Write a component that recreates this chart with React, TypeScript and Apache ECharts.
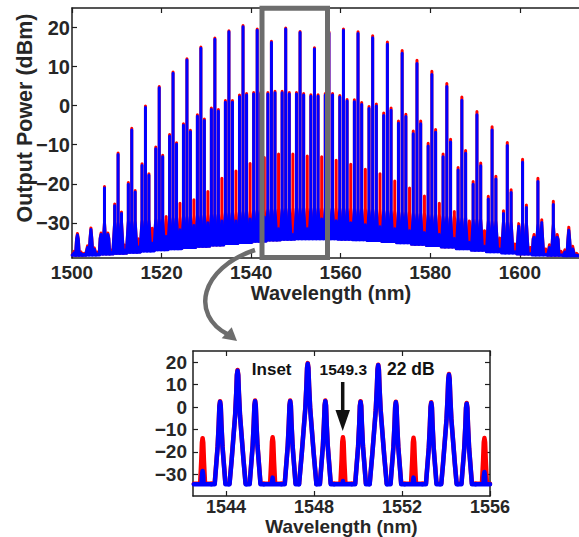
import { useEffect, useRef } from 'react';
import * as echarts from 'echarts';

const FONT = '"Liberation Sans", Arial, Helvetica, sans-serif';
const C_NM_THZ = 299792.458; // nm * THz

// ---------------- Main spectrum (100-GHz grid, groups of 4 lines) ----------------
// high line of each group (THz); left side line = +0.1 THz, right side = -0.1 THz
const highTHz = [199.7, 199.3, 198.9, 198.5, 198.1, 197.7, 197.3, 196.9, 196.5, 196.1, 195.7, 195.3, 194.9, 194.5, 194.1, 193.7, 193.3, 192.9, 192.5, 192.1, 191.7, 191.3, 190.9, 190.5, 190.1, 189.7, 189.3, 188.9, 188.5, 188.1, 187.7, 187.3, 186.9, 186.5, 186.1];
const highBlue = [-33.1, -31.7, -21.1, -12.5, -6.2, -0.5, 4.6, 8.3, 11.7, 14.7, 17.0, 18.9, 20.2, 19.3, 16.2, 19.6, 18.7, 14.5, 18.6, 19.3, 18.5, 17.4, 15.7, 13.4, 10.8, 8.0, 4.9, 1.4, -2.3, -6.2, -10.2, -14.5, -19.4, -25.3, -31.9];
const highRed = [-32.7, -31.3, -20.7, -12.1, -5.8, -0.1, 4.9, 8.6, 12.0, 15.0, 17.3, 19.2, 20.5, 19.6, 16.5, 19.9, 19.0, 14.8, 18.9, 19.6, 18.9, 17.9, 16.3, 14.1, 11.6, 8.8, 5.7, 2.2, -1.5, -5.4, -9.4, -13.7, -18.6, -24.5, -31.1];
const sideLeftBlue = [-37.7, -36.3, -33.0, -25.6, -20.1, -15.3, -11.0, -7.8, -5.0, -2.7, -1.0, 0.9, 2.3, 3.0, 3.0, 3.3, 3.0, 2.4, 2.7, 2.2, 1.0, -0.7, -2.5, -4.5, -7.2, -10.3, -13.1, -16.5, -20.1, -23.9, -27.6, -30.9, -33.7, -36.3, -37.5];
const sideLeftRed = [-37.3, -35.9, -32.6, -25.2, -19.7, -14.9, -10.6, -7.4, -4.6, -2.3, -0.6, 1.3, 2.7, 3.4, 3.4, 3.7, 3.4, 2.8, 3.1, 2.6, 1.5, -0.2, -1.9, -3.9, -6.5, -9.6, -12.4, -15.8, -19.4, -23.2, -26.9, -30.2, -33.0, -35.6, -36.9];
const sideRightBlue = [-37.8, -36.8, -33.0, -27.6, -22.1, -17.8, -13.1, -9.9, -6.7, -3.8, -1.4, 0.9, 2.7, 3.0, 3.3, 3.0, 2.7, 2.4, 2.7, 1.2, 0.3, -0.1, -1.2, -2.8, -4.6, -6.8, -9.3, -12.2, -15.4, -18.8, -22.2, -26.1, -29.9, -33.7, -36.7];
const sideRightRed = [-37.4, -36.4, -32.6, -27.2, -21.7, -17.4, -12.7, -9.5, -6.3, -3.4, -1.0, 1.3, 3.1, 3.4, 3.7, 3.4, 3.1, 2.8, 3.1, 1.6, 0.8, 0.4, -0.6, -2.2, -3.9, -6.1, -8.6, -11.5, -14.7, -18.1, -21.5, -25.4, -29.2, -33.0, -36.0];
const floorBlue = [-38.3, -38.2, -38.0, -37.8, -37.5, -37.2, -36.9, -36.6, -36.3, -36.0, -35.7, -35.3, -35.0, -34.7, -34.4, -34.2, -34.1, -34.1, -34.1, -34.2, -34.3, -34.5, -34.8, -35.1, -35.5, -35.8, -36.2, -36.6, -37.0, -37.4, -37.7, -38.0, -38.2, -38.3, -38.4];
const floorRed = [-38.2, -38.1, -37.9, -37.7, -37.4, -37.1, -36.8, -36.5, -36.2, -35.9, -35.6, -35.2, -34.9, -34.6, -34.3, -34.1, -34.0, -34.0, -34.0, -34.1, -34.2, -34.4, -34.7, -35.0, -35.4, -35.7, -36.1, -36.5, -36.9, -37.3, -37.6, -37.9, -38.1, -38.2, -38.3];
// suppressed lines (between groups)
const suppTHz = [199.5, 199.1, 198.7, 198.3, 197.9, 197.5, 197.1, 196.7, 196.3, 195.9, 195.5, 195.1, 194.7, 194.3, 193.9, 193.5, 193.1, 192.7, 192.3, 191.9, 191.5, 191.1, 190.7, 190.3, 189.9, 189.5, 189.1, 188.7, 188.3, 187.9, 187.5, 187.1, 186.7, 186.3, 185.9];
const suppRed = [-37.8, -37.5, -37.0, -35.7, -34.1, -31.4, -28.4, -25.0, -24.1, -22.0, -18.6, -16.7, -14.8, -13.3, -12.4, -12.4, -12.9, -13.1, -14.0, -15.0, -16.3, -17.4, -19.3, -21.1, -23.1, -25.0, -27.1, -29.5, -32.0, -33.9, -35.4, -36.3, -36.7, -37.3, -37.8];
const suppBlue = [-38.1, -38.0, -37.6, -37.0, -36.2, -35.2, -33.5, -31.8, -30.7, -30.0, -29.5, -29.5, -29.0, -28.5, -31.5, -33.0, -31.5, -29.0, -29.5, -30.0, -30.5, -31.0, -31.5, -32.0, -32.5, -33.0, -34.0, -35.0, -36.0, -36.7, -37.4, -37.9, -38.1, -38.2, -38.3];

// ---------------- Inset (1542.5 - 1556 nm) ----------------
const insetTHz = [194.3, 194.2, 194.1, 194.0, 193.9, 193.8, 193.7, 193.6, 193.5, 193.4, 193.3, 193.2, 193.1, 193.0, 192.9, 192.8, 192.7];
const insetBlue = [-28.5, 2.3, 16.2, 2.6, -31.5, 2.6, 19.3, 2.6, -33.0, 2.3, 18.6, 2.1, -31.5, 1.8, 14.4, 1.5, -29.0];
const insetRed = [-13.9, 2.6, 16.5, 2.9, -13.5, 2.9, 19.6, 2.9, -13.5, 2.6, 18.9, 2.4, -13.7, 2.1, 14.7, 1.8, -13.8];
const insetFloorBlue = -34.5;
const insetFloorRed = -34.2;

// ticks
const mainXTicks = [1500, 1520, 1540, 1560, 1580, 1600];
const mainYTicks = [-30, -20, -10, 0, 10, 20];
const insetXTicks = [1544, 1548, 1552, 1556];
const insetYTicks = [-30, -20, -10, 0, 10, 20];

const BLUE = '#0000ff';
const RED = '#ff0000';

const toNm = (thz: number) => C_NM_THZ / thz;

type Line = [number, number, number];

function buildMain(blue: boolean): Line[] {
  const hi = blue ? highBlue : highRed;
  const sl = blue ? sideLeftBlue : sideLeftRed;
  const sr = blue ? sideRightBlue : sideRightRed;
  const sp = blue ? suppBlue : suppRed;
  const fl = blue ? floorBlue : floorRed;
  const out: Line[] = [];
  highTHz.forEach((f, i) => {
    out.push([toNm(f + 0.1), sl[i], fl[i]]);
    out.push([toNm(f), hi[i], fl[i]]);
    out.push([toNm(f - 0.1), sr[i], fl[i]]);
  });
  suppTHz.forEach((f, i) => out.push([toNm(f), sp[i], fl[i]]));
  return out;
}

function buildInset(blue: boolean): Line[] {
  const v = blue ? insetBlue : insetRed;
  const fl = blue ? insetFloorBlue : insetFloorRed;
  return insetTHz.map((f, i) => [toNm(f), v[i], fl] as Line);
}

// glyph styles
const MAIN_FOOT_H = [8, 4, 0]; // dB above floor
const MAIN_FOOT_W = [0, 0.2, 0.42]; // nm half width
const INSET_DROP = [0, 2, 10, 20, 40, 60]; // dB below peak
const INSET_HW = [0, 0.03, 0.06, 0.11, 0.27, 0.45]; // nm half width
const INSET_HALF_SPACING = 0.4;

function clampFn(cs: any) {
  return (p: number[]) => [Math.min(Math.max(p[0], cs.x), cs.x + cs.width), p[1]];
}

function mainRender(color: string, lw: number) {
  return (params: any, api: any) => {
    const lam = api.value(0) as number;
    const peak = api.value(1) as number;
    const floor = api.value(2) as number;
    const clamp = clampFn(params.coordSys);
    const left: number[][] = [];
    const right: number[][] = [];
    for (let k = 0; k < MAIN_FOOT_H.length; k++) {
      const lvl = floor + MAIN_FOOT_H[k];
      if (lvl > peak) continue;
      left.unshift(clamp(api.coord([lam - MAIN_FOOT_W[k], lvl])));
      right.push(clamp(api.coord([lam + MAIN_FOOT_W[k], lvl])));
    }
    const pts = [...left, clamp(api.coord([lam, peak])), ...right];
    return {
      type: 'polygon',
      shape: { points: pts },
      style: { fill: color, stroke: color, lineWidth: lw, lineJoin: 'round' },
    };
  };
}

function insetRender(color: string, lw: number) {
  return (params: any, api: any) => {
    const lam = api.value(0) as number;
    const peak = api.value(1) as number;
    const floor = api.value(2) as number;
    const clamp = clampFn(params.coordSys);
    const total = peak - floor;
    const prof: [number, number][] = [];
    for (let k = 0; k < INSET_DROP.length; k++) {
      if (INSET_DROP[k] < total) {
        prof.push([INSET_HW[k], peak - INSET_DROP[k]]);
      } else {
        const d0 = INSET_DROP[k - 1];
        const w0 = INSET_HW[k - 1];
        const t = (total - d0) / (INSET_DROP[k] - d0);
        prof.push([w0 + t * (INSET_HW[k] - w0), floor]);
        break;
      }
    }
    prof.push([INSET_HALF_SPACING, floor]);
    const leftPts = prof.slice().reverse().map(([w, y]) => clamp(api.coord([lam - w, y])));
    const rightPts = prof.slice(1).map(([w, y]) => clamp(api.coord([lam + w, y])));
    return {
      type: 'polyline',
      shape: { points: [...leftPts, ...rightPts] },
      style: { fill: 'none', stroke: color, lineWidth: lw, lineJoin: 'round', lineCap: 'round' },
    };
  };
}

const AXIS_COLOR = '#1e1e1e';
const LABEL_COLOR = '#262626';
const fmtNum = (v: number) => (v < 0 ? '\u2212' + Math.abs(v) : String(v));

function xAxis(gridIndex: number, position: 'top' | 'bottom', min: number, max: number, ticks: number[], labels: boolean, fontSize: number, margin: number) {
  return {
    type: 'value', gridIndex, position, min, max,
    axisLine: { show: true, onZero: false, lineStyle: { color: AXIS_COLOR, width: 1.5 } },
    axisTick: { show: true, inside: true, length: 5, customValues: ticks, lineStyle: { color: AXIS_COLOR, width: 1.2 } },
    axisLabel: labels
      ? { show: true, customValues: ticks, margin, fontSize, fontWeight: 'bold', fontFamily: FONT, color: LABEL_COLOR, formatter: fmtNum, lineHeight: fontSize }
      : { show: false },
    splitLine: { show: false },
  };
}

function yAxis(gridIndex: number, position: 'left' | 'right', min: number, max: number, ticks: number[], labels: boolean, fontSize: number, margin: number) {
  return {
    type: 'value', gridIndex, position, min, max,
    axisLine: { show: true, onZero: false, lineStyle: { color: AXIS_COLOR, width: 1.5 } },
    axisTick: { show: true, inside: true, length: 5, customValues: ticks, lineStyle: { color: AXIS_COLOR, width: 1.2 } },
    axisLabel: labels
      ? { show: true, customValues: ticks, margin, fontSize, fontWeight: 'bold', fontFamily: FONT, color: LABEL_COLOR, formatter: fmtNum }
      : { show: false },
    splitLine: { show: false },
  };
}

export default function App() {
  const ref = useRef<HTMLDivElement>(null);
  useEffect(() => {
    if (!ref.current) return;
    const chart = echarts.init(ref.current, null, { renderer: 'svg' });
    const mainMin = 1500;
    const mainMax = 1613.2;
    const option: any = {
      animation: false,
      backgroundColor: '#ffffff',
      tooltip: { show: false },
      grid: [
        { left: 72, right: 0, top: 8, height: 250 },
        { left: 193, top: 351, width: 297, height: 145 },
      ],
      xAxis: [
        xAxis(0, 'bottom', mainMin, mainMax, mainXTicks, true, 19, 5),
        xAxis(0, 'top', mainMin, mainMax, mainXTicks, false, 19, 5),
        xAxis(1, 'bottom', 1542.5, 1556, insetXTicks, true, 18, 2),
        xAxis(1, 'top', 1542.5, 1556, insetXTicks, false, 18, 2),
      ],
      yAxis: [
        yAxis(0, 'left', -39, 25, mainYTicks, true, 20, 2),
        yAxis(1, 'left', -39.7, 25, insetYTicks, true, 19, 6),
        yAxis(1, 'right', -39.7, 25, insetYTicks, false, 19, 6),
      ],
      series: [
        {
          type: 'custom', name: 'red', xAxisIndex: 0, yAxisIndex: 0,
          dimensions: ['wl', 'power', 'floor'], encode: { x: 0, y: 1 },
          renderItem: mainRender(RED, 3), data: buildMain(false), silent: true, z: 2,
        },
        {
          type: 'custom', name: 'blue', xAxisIndex: 0, yAxisIndex: 0,
          dimensions: ['wl', 'power', 'floor'], encode: { x: 0, y: 1 },
          renderItem: mainRender(BLUE, 3), data: buildMain(true), silent: true, z: 3,
        },
        {
          type: 'custom', name: 'redInset', xAxisIndex: 2, yAxisIndex: 1,
          dimensions: ['wl', 'power', 'floor'], encode: { x: 0, y: 1 },
          renderItem: insetRender(RED, 4.5), data: buildInset(false), silent: true, z: 2,
        },
        {
          type: 'custom', name: 'blueInset', xAxisIndex: 2, yAxisIndex: 1,
          dimensions: ['wl', 'power', 'floor'], encode: { x: 0, y: 1 },
          renderItem: insetRender(BLUE, 4.5), data: buildInset(true), silent: true, z: 3,
        },
      ],
      graphic: [
        {
          type: 'text', x: 24.5, y: 118, rotation: Math.PI / 2, z: 100,
          style: { text: 'Output Power (dBm)', font: `bold 21.5px ${FONT}`, fill: LABEL_COLOR, align: 'center', verticalAlign: 'middle' },
        },
        {
          type: 'text', x: 331, y: 292.5, z: 100,
          style: { text: 'Wavelength (nm)', font: `bold 20px ${FONT}`, fill: LABEL_COLOR, align: 'center', verticalAlign: 'middle' },
        },
        {
          type: 'text', x: 341.5, y: 526, z: 100,
          style: { text: 'Wavelength (nm)', font: `bold 19px ${FONT}`, fill: LABEL_COLOR, align: 'center', verticalAlign: 'middle' },
        },
        {
          type: 'rect', z: 100, silent: true,
          shape: { x: 262, y: 8.3, width: 65.5, height: 249.2 },
          style: { fill: 'none', stroke: '#6d6d6d', lineWidth: 5 },
        },
        {
          type: 'bezierCurve', z: 100, silent: true,
          shape: { x1: 255, y1: 250, cpx1: 200, cpy1: 268, cpx2: 190, cpy2: 315, x2: 228, y2: 334.5 },
          style: { fill: 'none', stroke: '#6d6d6d', lineWidth: 4.5 },
        },
        {
          type: 'polygon', z: 100, silent: true,
          shape: { points: [[237, 341], [221.7, 338.3], [231.7, 327.3]] },
          style: { fill: '#6d6d6d' },
        },
        {
          type: 'text', x: 271.7, y: 369, z: 100,
          style: { text: 'Inset', font: `bold 17px ${FONT}`, fill: '#111', align: 'center', verticalAlign: 'middle' },
        },
        {
          type: 'text', x: 343.3, y: 369, z: 100,
          style: { text: '1549.3', font: `bold 15.5px ${FONT}`, fill: '#111', align: 'center', verticalAlign: 'middle' },
        },
        {
          type: 'text', x: 410.8, y: 369, z: 100,
          style: { text: '22 dB', font: `bold 17.5px ${FONT}`, fill: '#111', align: 'center', verticalAlign: 'middle' },
        },
        {
          type: 'line', z: 100, silent: true,
          shape: { x1: 342.7, y1: 382, x2: 342.7, y2: 414 },
          style: { stroke: '#111', lineWidth: 3.5 },
        },
        {
          type: 'polygon', z: 100, silent: true,
          shape: { points: [[335.5, 410], [350, 410], [342.7, 431]] },
          style: { fill: '#111' },
        },
      ],
    };
    chart.setOption(option);
    return () => chart.dispose();
  }, []);
  return (
    <div
      ref={ref}
      style={{ position: 'absolute', left: 0, top: 0, width: 579, height: 537, background: '#fff' }}
    />
  );
}
